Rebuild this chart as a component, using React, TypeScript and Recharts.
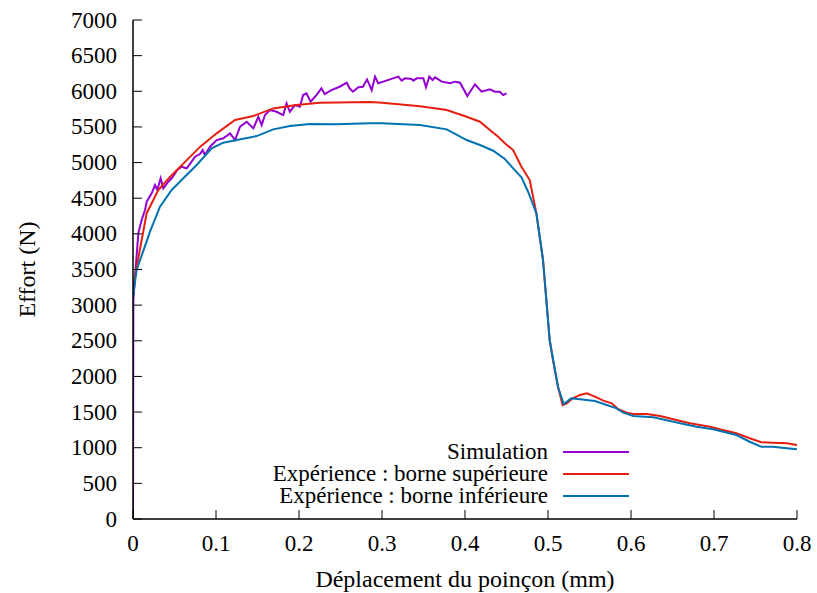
import React from "react";
import { LineChart, Line, XAxis, YAxis } from "recharts";

// Simulation
const simX = [
  0, 0.0004, 0.0064, 0.0104, 0.0145, 0.0165, 0.0225, 0.0265, 0.0293, 0.0333, 0.0365, 0.0425,
  0.0466, 0.0506, 0.0534, 0.0586, 0.0647, 0.0707, 0.0747, 0.0807, 0.0839, 0.0867, 0.0928,
  0.1008, 0.1088, 0.1169, 0.123, 0.129, 0.137, 0.145, 0.151, 0.155, 0.159, 0.165, 0.173,
  0.181, 0.185, 0.189, 0.195, 0.201, 0.205, 0.209, 0.214, 0.221, 0.227, 0.231, 0.239, 0.249,
  0.2575, 0.261, 0.265, 0.2715, 0.277, 0.282, 0.2876, 0.2916, 0.2955, 0.3016, 0.3096, 0.3197,
  0.3237, 0.3277, 0.3357, 0.3377, 0.3418, 0.3498, 0.353, 0.357, 0.361, 0.3639, 0.372, 0.382,
  0.388, 0.394, 0.4028, 0.412, 0.42, 0.43, 0.436, 0.442, 0.446, 0.45,
];
const simY = [
  0, 3072, 4007, 4194, 4334, 4451, 4569, 4685, 4615, 4779, 4638, 4732,
  4779, 4849, 4896, 4942, 4919, 5013, 5083, 5120, 5176, 5106, 5222,
  5316, 5340, 5410, 5316, 5503, 5573, 5480, 5643, 5527, 5667, 5737, 5713,
  5667, 5831, 5713, 5807, 5784, 5947, 5971, 5854, 5947, 6041, 5961, 6017, 6064,
  6120, 6041, 5994, 6056, 6064, 6167, 6017, 6205, 6112, 6135, 6167, 6205,
  6149, 6182, 6172, 6149, 6182, 6182, 6056, 6205, 6158, 6196, 6135, 6112,
  6135, 6121, 5934, 6098, 5994, 6027, 5994, 5994, 5947, 5971,
];

// Expérience : borne supérieure
const supX = [
  0, 0.0165, 0.0305, 0.0446, 0.0627, 0.0807, 0.1008, 0.123, 0.145, 0.169, 0.197, 0.225,
  0.286, 0.3, 0.346, 0.378, 0.402, 0.418, 0.43, 0.44, 0.448, 0.458, 0.468, 0.478, 0.486,
  0.494, 0.502, 0.506, 0.512, 0.5177, 0.5225, 0.53, 0.5386, 0.5466, 0.5566, 0.5667, 0.5767,
  0.5847, 0.5948, 0.6028, 0.619, 0.635, 0.651, 0.671, 0.695, 0.707, 0.727, 0.743, 0.757,
  0.771, 0.7876, 0.8,
];
const supY = [
  3260, 4290, 4615, 4800, 5010, 5220, 5410, 5597, 5653, 5760, 5807, 5840,
  5849, 5840, 5790, 5737, 5643, 5573, 5457, 5363, 5270, 5176, 4942, 4755, 4288,
  3633, 2511, 2230, 1856, 1599, 1622, 1693, 1740, 1763, 1716, 1660, 1623,
  1539, 1491, 1473, 1473, 1445, 1398, 1342, 1295, 1258, 1202, 1132, 1076,
  1071, 1062, 1038,
];

// Expérience : borne inférieure
const infX = [
  0, 0.0044, 0.0205, 0.0325, 0.0466, 0.0606, 0.0767, 0.0948, 0.1088, 0.125, 0.149, 0.169,
  0.189, 0.213, 0.2454, 0.2855, 0.3, 0.3458, 0.378, 0.402, 0.418, 0.434, 0.448, 0.458,
  0.468, 0.476, 0.486, 0.494, 0.502, 0.512, 0.519, 0.528, 0.5386, 0.5566, 0.5707, 0.5827,
  0.5908, 0.6028, 0.627, 0.651, 0.679, 0.699, 0.727, 0.743, 0.757, 0.771, 0.7876, 0.8,
];
const infY = [
  3118, 3493, 4030, 4381, 4615, 4779, 4966, 5200, 5279, 5317, 5372, 5466,
  5513, 5541, 5536, 5550, 5550, 5527, 5466, 5316, 5246, 5166, 5050, 4919,
  4793, 4591, 4288, 3633, 2511, 1856, 1613, 1693, 1679, 1655, 1599, 1553,
  1491, 1445, 1426, 1365, 1295, 1258, 1178, 1084, 1014, 1014, 992, 978,
];

const xTicks = [0, 0.1, 0.2, 0.3, 0.4, 0.5, 0.6, 0.7, 0.8];
const yTicks = [0, 500, 1000, 1500, 2000, 2500, 3000, 3500, 4000, 4500, 5000, 5500, 6000, 6500, 7000];

const seriesNames = ["Simulation", "Expérience : borne supérieure", "Expérience : borne inférieure"];
const seriesColors = ["#9400d3", "#e51e10", "#0072b2"];

const toPoints = (xs: number[], ys: number[]) => xs.map((x, i) => ({ x, y: ys[i] }));
const seriesData = [toPoints(simX, simY), toPoints(supX, supY), toPoints(infX, infY)];

const FONT = "Liberation Serif, Tinos, Times, DejaVu Serif";
const txt = { fontFamily: FONT, fontSize: 23, fill: "#000" };
const titleTxt = { ...txt, fontSize: 24 };
const TICK = 9;

const BottomTick = (props: any) => {
  const { x, y, payload } = props;
  return (
    <g>
      <line x1={x} y1={y} x2={x} y2={y - TICK} stroke="#000" strokeWidth={1} />
      <text x={x} y={y + 32} textAnchor="middle" style={txt}>
        {payload.value}
      </text>
    </g>
  );
};

const LeftTick = (props: any) => {
  const { x, y, payload } = props;
  return (
    <g>
      <line x1={x} y1={y} x2={x + TICK} y2={y} stroke="#000" strokeWidth={1} />
      <text x={x - 16} y={y + 7.5} textAnchor="end" style={txt}>
        {payload.value}
      </text>
    </g>
  );
};

const TopTick = (props: any) => {
  const { x, y } = props;
  return <line x1={x} y1={y} x2={x} y2={y + TICK} stroke="#000" strokeWidth={1} />;
};

const RightTick = (props: any) => {
  const { x, y } = props;
  return <line x1={x} y1={y} x2={x - TICK} y2={y} stroke="#000" strokeWidth={1} />;
};

const App: React.FC = () => {
  return (
    <div style={{ position: "absolute", left: 0, top: 0, width: 817, height: 593, background: "#fff", fontFamily: FONT }}>
      <LineChart width={817} height={593} margin={{ top: 20, right: 20, left: 0, bottom: 0 }}>
        <XAxis
          dataKey="x"
          type="number"
          domain={[0, 0.8]}
          ticks={xTicks}
          allowDataOverflow
          height={74}
          tickSize={0}
          tickMargin={0}
          tickLine={false}
          axisLine={{ stroke: "#000", strokeWidth: 1.5 }}
          tick={<BottomTick />}
          label={{
            value: "Déplacement du poinçon (mm)",
            position: "insideBottom",
            offset: 6,
            style: titleTxt,
          }}
        />
        <XAxis
          xAxisId="top"
          orientation="top"
          type="number"
          domain={[0, 0.8]}
          ticks={xTicks}
          allowDataOverflow
          height={0}
          tickSize={0}
          tickMargin={0}
          tickLine={false}
          axisLine={{ stroke: "#000", strokeWidth: 1.5 }}
          tick={<TopTick />}
        />
        <YAxis
          type="number"
          domain={[0, 7000]}
          ticks={yTicks}
          allowDataOverflow
          width={133}
          tickSize={0}
          tickMargin={0}
          tickLine={false}
          axisLine={{ stroke: "#000", strokeWidth: 1.5 }}
          tick={<LeftTick />}
          label={{
            value: "Effort (N)",
            angle: -90,
            position: "insideLeft",
            offset: 26,
            style: { ...titleTxt, textAnchor: "middle" },
          }}
        />
        <YAxis
          yAxisId="right"
          orientation="right"
          type="number"
          domain={[0, 7000]}
          ticks={yTicks}
          allowDataOverflow
          width={0}
          tickSize={0}
          tickMargin={0}
          tickLine={false}
          axisLine={{ stroke: "#000", strokeWidth: 1.5 }}
          tick={<RightTick />}
        />
        {seriesData.map((d, i) => (
          <Line
            key={seriesNames[i]}
            data={d}
            dataKey="y"
            type="linear"
            stroke={seriesColors[i]}
            strokeWidth={2}
            dot={false}
            activeDot={false}
            isAnimationActive={false}
          />
        ))}
      </LineChart>
      <svg
        width={817}
        height={593}
        style={{ position: "absolute", left: 0, top: 0, pointerEvents: "none" }}
      >
        {seriesNames.map((name, i) => (
          <g key={name}>
            <text x={548} y={459 + i * 22} textAnchor="end" style={txt}>
              {name}
            </text>
            <line x1={563} x2={629} y1={452 + i * 22} y2={452 + i * 22} stroke={seriesColors[i]} strokeWidth={2} />
          </g>
        ))}
      </svg>
    </div>
  );
};

export default App;
